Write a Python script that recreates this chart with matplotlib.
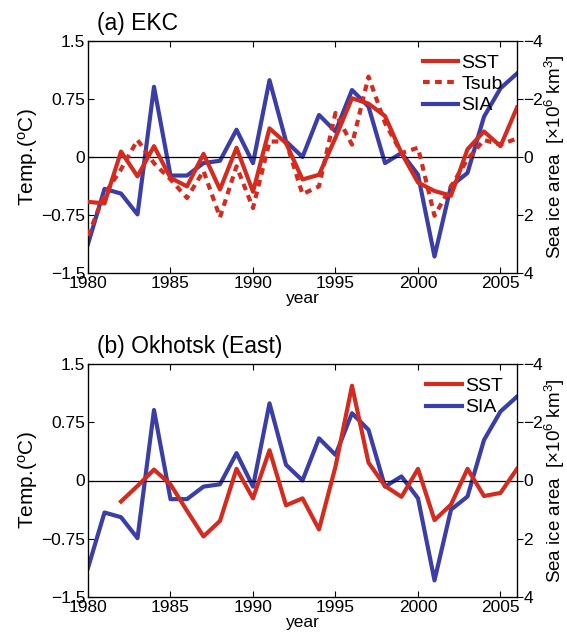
import matplotlib
matplotlib.use("Agg")
import matplotlib.pyplot as plt

plt.rcParams['font.family'] = ['Liberation Sans', 'DejaVu Sans']
plt.rcParams['mathtext.fontset'] = 'custom'
plt.rcParams['mathtext.rm'] = 'Liberation Sans'
plt.rcParams['mathtext.it'] = 'Liberation Sans'

years = list(range(1980, 2007))

sst_ekc = [-0.58, -0.60, 0.07, -0.25, 0.14, -0.27, -0.38, 0.04, -0.42, 0.12,
           -0.45, 0.37, 0.18, -0.29, -0.23, 0.25, 0.76, 0.69, 0.53, 0.05,
           -0.33, -0.44, -0.50, 0.10, 0.33, 0.14, 0.64]
tsub_ekc = [-1.02, -0.48, -0.16, 0.22, -0.08, -0.29, -0.53, -0.18, -0.78, -0.12,
            -0.66, 0.20, 0.20, -0.48, -0.38, 0.57, 0.16, 1.04, 0.44, 0.05,
            0.12, -0.76, -0.38, -0.03, 0.22, 0.16, 0.24]
sia = [3.00, 1.10, 1.26, 1.98, -2.42, 0.64, 0.64, 0.21, 0.13, -0.94,
       0.21, -2.65, -0.54, 0.00, -1.45, -0.88, -2.31, -1.74, 0.21, -0.14,
       0.61, 3.43, 1.00, 0.55, -1.39, -2.37, -2.88]

years_okh = list(range(1982, 2007))
sst_okh = [-0.27, -0.07, 0.14, -0.05, -0.39, -0.72, -0.52, 0.15, -0.23, 0.39,
           -0.32, -0.23, -0.63, 0.18, 1.22, 0.23, -0.07, -0.21, 0.15, -0.51,
           -0.31, 0.15, -0.20, -0.16, 0.15]

xticks = [1980, 1985, 1990, 1995, 2000, 2005]
lticks = [-1.5, -0.75, 0, 0.75, 1.5]
lticklabels = ['\u22121.5', '\u22120.75', '0', '0.75', '1.5']
rticks = [-4, -2, 0, 2, 4]
rticklabels = ['\u22124', '\u22122', '0', '2', '4']

RED = '#d52a1e'
BLUE = '#3a3ea6'
FS = 12.5
LFS = 15
LW = 3.0

W, H = 567, 643
fig = plt.figure(figsize=(W / 100, H / 100), dpi=100)

def make_panel(rect, title, temps):
    ax = fig.add_axes(rect)
    ax.axhline(0, color='black', lw=0.9, zorder=1)
    handles = []
    for (xs, ys, ls, lab) in temps:
        ln, = ax.plot(xs, ys, color=RED, lw=LW, ls=ls, label=lab, zorder=3)
        if ls == '--':
            ln.set_dashes((1.6, 1.3))
        handles.append(ln)
    ax.set_xlim(1980, 2006)
    ax.set_ylim(-1.5, 1.5)
    ax.set_xticks(xticks)
    ax.set_xticklabels([str(t) for t in xticks])
    ax.set_yticks(lticks)
    ax.set_yticklabels(lticklabels)
    ax.tick_params(direction='in', length=4, width=0.8, labelsize=FS, top=True, right=False, pad=2)
    ax.set_xlabel('year', fontsize=FS, labelpad=0)
    ax.set_ylabel('Temp.($^{\\rm o}$C)', fontsize=LFS, labelpad=1)
    for s in ax.spines.values():
        s.set_linewidth(0.9)
    ax2 = ax.twinx()
    l2, = ax2.plot(years, sia, color=BLUE, lw=LW, label='SIA', zorder=2)
    handles.append(l2)
    ax2.set_ylim(4, -4)
    ax2.set_yticks(rticks)
    ax2.set_yticklabels(rticklabels)
    ax2.tick_params(direction='out', length=4, width=0.8, labelsize=FS, pad=0.5)
    ycen = rect[1] + rect[3] / 2
    fig.text(554.5 / W, ycen, 'Sea ice area  [\u00d710$^6$ km$^3$]', fontsize=13.5,
             rotation=90, ha='center', va='center')
    ax.set_zorder(ax2.get_zorder() + 1)
    ax.patch.set_visible(False)
    ax.text(0.022, 1.025, title, transform=ax.transAxes, fontsize=16.5,
            ha='left', va='bottom')
    ax.legend(handles=handles, loc='upper right', bbox_to_anchor=(0.985, 0.975),
              frameon=False, fontsize=14, handlelength=1.85, handletextpad=0.15,
              labelspacing=0.18, borderaxespad=0.0)
    return ax, ax2

make_panel([88 / W, 1 - 273 / H, (517 - 88) / W, (273 - 41) / H], '(a) EKC',
           [(years, sst_ekc, '-', 'SST'), (years, tsub_ekc, '--', 'Tsub')])
make_panel([88 / W, 1 - 597 / H, (517 - 88) / W, (597 - 364) / H], '(b) Okhotsk (East)',
           [(years_okh, sst_okh, '-', 'SST')])

fig.savefig('out.png', dpi=100)
